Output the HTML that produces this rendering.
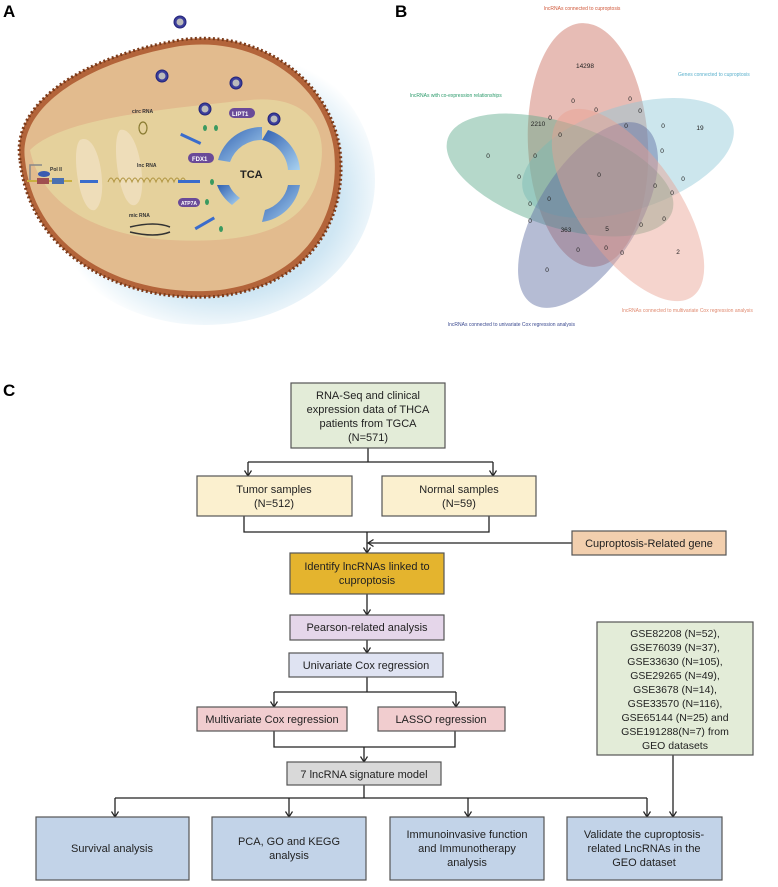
<!DOCTYPE html>
<html><head><meta charset="utf-8"><style>
body{margin:0;background:#fff;}
svg{display:block;font-family:"Liberation Sans",Arial,sans-serif;}
</style></head><body>
<svg width="778" height="887" viewBox="0 0 778 887" xmlns="http://www.w3.org/2000/svg">
<defs>
<radialGradient id="glow" cx="0.55" cy="0.55" r="0.5"><stop offset="0.7" stop-color="#cfe6f3"/><stop offset="1" stop-color="#fff"/></radialGradient>
<marker id="ah" markerWidth="9" markerHeight="9" refX="7" refY="4" orient="auto" markerUnits="userSpaceOnUse"><path d="M1.5,0.5 L7,4 L1.5,7.5" fill="none" stroke="#222" stroke-width="1.2"/></marker>
<linearGradient id="tca" x1="0" y1="0" x2="1" y2="1"><stop offset="0" stop-color="#2f5fb0"/><stop offset="1" stop-color="#a9d2f0"/></linearGradient>
</defs>
<!-- Panel A -->
<text x="3" y="17" font-size="17" font-weight="bold">A</text>
<ellipse cx="205" cy="180" rx="170" ry="145" fill="url(#glow)"/>
<path d="M20,160 C10,100 90,55 180,40 C260,28 330,80 340,150 C348,220 310,285 220,296 C130,305 30,260 20,160 Z" fill="#b3643a"/>
<path d="M20,160 C10,100 90,55 180,40 C260,28 330,80 340,150 C348,220 310,285 220,296 C130,305 30,260 20,160 Z" fill="none" stroke="#7a3a1a" stroke-width="3" stroke-dasharray="2,2.5"/>
<path d="M25,160 C17,104 93,61 180,46 C257,35 325,84 334,150 C341,217 305,279 220,290 C133,299 35,256 25,160 Z" fill="#e2bb8e"/>
<path d="M30,150 C60,120 150,110 250,100 C300,95 330,120 320,170 C310,220 270,245 170,240 C90,235 40,200 30,150 Z" fill="#e6d7a0" opacity="0.8"/>
<path d="M80,140 C100,130 110,200 95,210 C80,215 70,150 80,140 Z M120,130 C140,125 150,200 135,205 C120,210 110,140 120,130 Z" fill="#f0e0c0" opacity="0.8"/>
<g font-size="5" font-weight="bold" fill="#333">
<text x="132" y="113">circ RNA</text><text x="137" y="167">lnc RNA</text><text x="129" y="217">mic RNA</text><text x="50" y="171">Pol II</text>
</g>
<ellipse cx="143" cy="128" rx="4" ry="6" fill="none" stroke="#887a30" stroke-width="1.2"/>
<path d="M108,182 q3,-8 6,0 q3,-8 6,0 q3,-8 6,0 q3,-8 6,0 q3,-8 6,0 q3,-8 6,0 q3,-8 6,0 q3,-8 6,0 q3,-8 6,0 q3,-8 6,0 q3,-8 6,0 q3,-8 6,0 q3,-8 6,0" fill="none" stroke="#b09540" stroke-width="1"/>
<path d="M130,227 q25,-6 40,0 M130,232 q25,6 40,0" fill="none" stroke="#333" stroke-width="1.5"/>
<rect x="27" y="180" width="45" height="2" fill="#c9b040"/><rect x="37" y="178" width="12" height="6" fill="#a05050"/><rect x="52" y="178" width="12" height="6" fill="#4a70b0"/>
<ellipse cx="44" cy="174" rx="6" ry="3" fill="#3b5cb0"/>
<path d="M30,180 V165 H42" fill="none" stroke="#888" stroke-width="1.5"/>
<g fill="#3a6ccc"><rect x="80" y="180" width="18" height="3"/><rect x="178" y="180" width="22" height="3"/><rect x="180" y="137" width="22" height="3" transform="rotate(25 190 138)"/><rect x="193" y="222" width="22" height="3" transform="rotate(-30 204 222)"/></g>
<g fill="url(#tca)"><path d="M218,160 A45,45 0 0 1 262,127 L262,140 A33,33 0 0 0 230,162 Z"/><path d="M268,130 A45,45 0 0 1 300,170 L288,170 A33,33 0 0 0 262,140 Z"/><path d="M300,185 A45,45 0 0 1 262,222 L265,210 A33,33 0 0 0 288,185 Z"/><path d="M232,205 A45,45 0 0 1 217,185 L229,185 A33,33 0 0 0 240,198 Z"/></g>
<text x="240" y="178" font-size="11" font-weight="bold" fill="#222">TCA</text>
<g fill="#6a4a98"><rect x="188" y="153" width="26" height="10" rx="5"/><rect x="229" y="108" width="26" height="10" rx="5"/><rect x="178" y="198" width="22" height="9" rx="4.5"/></g>
<g font-size="6" fill="#fff" font-weight="bold"><text x="192" y="161">FDX1</text><text x="232" y="116">LIPT1</text><text x="181" y="205" font-size="5">ATP7A</text></g>
<g fill="#3b3d9a" stroke="#22247a"><circle cx="180" cy="22" r="6"/><circle cx="162" cy="76" r="6"/><circle cx="236" cy="83" r="6"/><circle cx="205" cy="109" r="6"/><circle cx="274" cy="119" r="6"/></g>
<g fill="#bbb"><circle cx="180" cy="22" r="3.5"/><circle cx="162" cy="76" r="3.5"/><circle cx="236" cy="83" r="3.5"/><circle cx="205" cy="109" r="3.5"/><circle cx="274" cy="119" r="3.5"/></g>
<g fill="#3a9a60"><ellipse cx="205" cy="128" rx="2" ry="3"/><ellipse cx="216" cy="128" rx="2" ry="3"/><ellipse cx="212" cy="182" rx="2" ry="3"/><ellipse cx="207" cy="202" rx="2" ry="3"/><ellipse cx="221" cy="229" rx="2" ry="3"/></g>
<!-- Panel B -->
<text x="395" y="17" font-size="17" font-weight="bold">B</text>
<g>
<ellipse cx="588" cy="145" rx="60" ry="122" fill="#c96a5a" opacity="0.45" transform="rotate(-3 588 145)"/>
<ellipse cx="628" cy="158" rx="110" ry="52" fill="#8ec8d8" opacity="0.45" transform="rotate(-18 628 158)"/>
<ellipse cx="560" cy="175" rx="118" ry="52" fill="#5aa88a" opacity="0.45" transform="rotate(18 560 175)"/>
<ellipse cx="588" cy="215" rx="105" ry="50" fill="#5b6aa0" opacity="0.45" transform="rotate(-58 588 215)"/>
<ellipse cx="628" cy="205" rx="112" ry="50" fill="#e8a090" opacity="0.45" transform="rotate(55 628 205)"/>
</g>
<g font-size="5" >
<text x="544" y="10" fill="#d0583a">lncRNAs connected to cuproptosis</text>
<text x="678" y="76" fill="#5ab0cc">Genes connected to cuproptosis</text>
<text x="410" y="97" fill="#2a9a6a">lncRNAs with co-expression relationships</text>
<text x="622" y="312" fill="#e08a70">lncRNAs connected to multivariate Cox regression analysis</text>
<text x="448" y="326" fill="#3b4a90">lncRNAs connected to univariate Cox regression analysis</text>
</g>
<g font-size="6.5" fill="#222" text-anchor="middle">
<text x="585" y="68">14298</text><text x="700" y="130">19</text><text x="488" y="158">0</text><text x="538" y="126">2210</text>
<text x="573" y="103">0</text><text x="630" y="101">0</text><text x="596" y="112">0</text><text x="640" y="113">0</text><text x="550" y="120">0</text><text x="626" y="128">0</text><text x="663" y="128">0</text>
<text x="560" y="137">0</text><text x="662" y="153">0</text><text x="535" y="158">0</text><text x="519" y="179">0</text><text x="599" y="177">0</text><text x="683" y="181">0</text>
<text x="655" y="188">0</text><text x="672" y="195">0</text><text x="549" y="201">0</text><text x="530" y="206">0</text><text x="664" y="221">0</text><text x="530" y="223">0</text><text x="641" y="227">0</text>
<text x="566" y="232">363</text><text x="607" y="231">5</text><text x="578" y="252">0</text><text x="606" y="250">0</text><text x="622" y="255">0</text><text x="678" y="254">2</text><text x="547" y="272">0</text>
</g>
<!-- Panel C -->
<text x="3" y="396" font-size="17" font-weight="bold">C</text>
<g stroke="#222" stroke-width="1.3" fill="none">
<path d="M368,448 V462 M248,462 H493"/>
<path d="M248,462 V476" marker-end="url(#ah)"/><path d="M493,462 V476" marker-end="url(#ah)"/>
<path d="M244,516 V532 H489 V516"/><path d="M367,532 V553" marker-end="url(#ah)"/>
<path d="M572,543 H368" marker-end="url(#ah)"/>
<path d="M367,594 V615" marker-end="url(#ah)"/>
<path d="M367,640 V653" marker-end="url(#ah)"/>
<path d="M367,677 V692 M274,692 H456"/>
<path d="M274,692 V707" marker-end="url(#ah)"/><path d="M456,692 V707" marker-end="url(#ah)"/>
<path d="M274,731 V747 H455 V731"/><path d="M364,747 V762" marker-end="url(#ah)"/>
<path d="M364,785 V798 M115,798 H647"/>
<path d="M115,798 V817" marker-end="url(#ah)"/><path d="M289,798 V817" marker-end="url(#ah)"/><path d="M468,798 V817" marker-end="url(#ah)"/><path d="M647,798 V817" marker-end="url(#ah)"/>
<path d="M673,755 V817" marker-end="url(#ah)"/>
</g>
<g stroke="#555" stroke-width="1.2">
<rect x="291" y="383" width="154" height="65" fill="#e3ecd8"/>
<rect x="197" y="476" width="155" height="40" fill="#fbf0cf"/>
<rect x="382" y="476" width="154" height="40" fill="#fbf0cf"/>
<rect x="572" y="531" width="154" height="24" fill="#f2cfae"/>
<rect x="290" y="553" width="154" height="41" fill="#e4b42e"/>
<rect x="290" y="615" width="154" height="25" fill="#e5d6ea"/>
<rect x="289" y="653" width="154" height="24" fill="#dfe3f2"/>
<rect x="197" y="707" width="150" height="24" fill="#f1cdcf"/>
<rect x="378" y="707" width="127" height="24" fill="#f1cdcf"/>
<rect x="287" y="762" width="154" height="23" fill="#d9d9d9"/>
<rect x="597" y="622" width="156" height="133" fill="#e3ecd8"/>
<rect x="36" y="817" width="153" height="63" fill="#c2d3e8"/>
<rect x="212" y="817" width="154" height="63" fill="#c2d3e8"/>
<rect x="390" y="817" width="154" height="63" fill="#c2d3e8"/>
<rect x="567" y="817" width="155" height="63" fill="#c2d3e8"/>
</g>
<g font-size="11" fill="#222" text-anchor="middle">
<text x="368" y="399">RNA-Seq and clinical</text><text x="368" y="413">expression data of THCA</text><text x="368" y="427">patients from TGCA</text><text x="368" y="441">(N=571)</text>
<text x="274" y="493">Tumor samples</text><text x="274" y="507">(N=512)</text>
<text x="459" y="493">Normal samples</text><text x="459" y="507">(N=59)</text>
<text x="649" y="547">Cuproptosis-Related gene</text>
<text x="367" y="570">Identify lncRNAs linked to</text><text x="367" y="584">cuproptosis</text>
<text x="367" y="631">Pearson-related analysis</text>
<text x="366" y="669">Univariate Cox regression</text>
<text x="272" y="723">Multivariate Cox regression</text>
<text x="441" y="723">LASSO regression</text>
<text x="364" y="778">7 lncRNA signature model</text>
<g font-size="10.5">
<text x="675" y="637">GSE82208 (N=52),</text><text x="675" y="651">GSE76039 (N=37),</text><text x="675" y="665">GSE33630 (N=105),</text><text x="675" y="679">GSE29265 (N=49),</text><text x="675" y="693">GSE3678 (N=14),</text><text x="675" y="707">GSE33570 (N=116),</text><text x="675" y="721">GSE65144 (N=25) and</text><text x="675" y="735">GSE191288(N=7) from</text><text x="675" y="749">GEO datasets</text>
</g>
<text x="112" y="852">Survival analysis</text>
<text x="289" y="845">PCA, GO and KEGG</text><text x="289" y="859">analysis</text>
<text x="467" y="838">Immunoinvasive function</text><text x="467" y="852">and Immunotherapy</text><text x="467" y="866">analysis</text>
<text x="644" y="838">Validate the cuproptosis-</text><text x="644" y="852">related LncRNAs in the</text><text x="644" y="866">GEO dataset</text>
</g>
</svg>
</body></html>
